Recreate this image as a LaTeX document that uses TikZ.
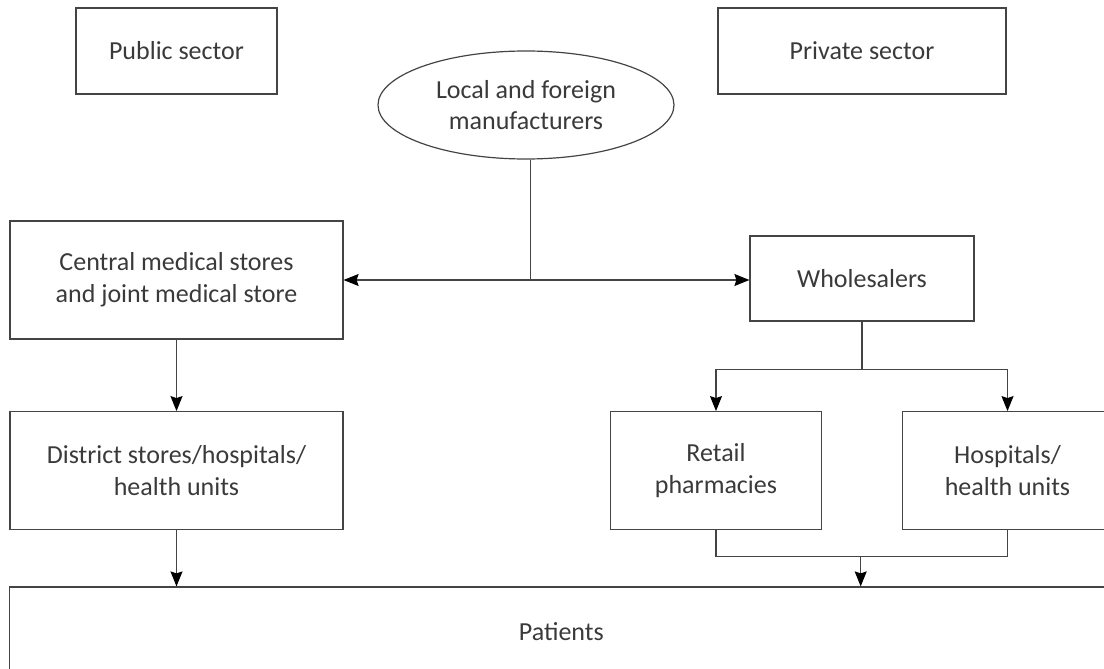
\documentclass[tikz,border=0pt]{standalone}
\usepackage{fontspec}
\setmainfont{Carlito}
\usetikzlibrary{arrows.meta,shapes.geometric}
\definecolor{linec}{HTML}{444444}
\definecolor{textc}{HTML}{3a3a3a}
\tikzset{
  box/.style={draw=linec, line width=1.2pt, rectangle, inner sep=0pt, align=center,
    text=textc, font=\fontsize{26}{31.7}\selectfont},
  oval/.style={draw=linec, line width=1.2pt, ellipse, inner sep=0pt, align=center,
    text=textc, font=\fontsize{26}{31.7}\selectfont},
  conn/.style={draw=linec, line width=1.2pt},
  arr/.style={conn, -{Stealth[length=15pt,width=12pt,inset=2pt,color=black]}}
}
\begin{document}
\begin{tikzpicture}[x=1pt,y=-1pt]
\useasboundingbox (0,0) rectangle (1104,669);
\begin{scope}
\clip (0,0) rectangle (1104,669);
\node[box, minimum width=201pt, minimum height=86pt] (pub) at (176.5,51) {Public sector};
\node[box, minimum width=288pt, minimum height=86pt] (priv) at (862,51) {Private sector};
\node[oval, minimum width=296pt, minimum height=108pt] (manu) at (526,105) {Local and foreign\\manufacturers};
\node[box, minimum width=333pt, minimum height=118pt] (central) at (176.5,280) {Central medical stores\\and joint medical store};
\node[box, minimum width=224pt, minimum height=85pt] (whole) at (862,278.5) {Wholesalers};
\node[box, minimum width=333pt, minimum height=118pt] (district) at (176.5,470.7) {District stores/hospitals/\\health units};
\node[box, minimum width=211pt, minimum height=118pt] (retail) at (716,470.7) {Retail\\pharmacies};
\node[box, minimum width=210pt, minimum height=118pt] (hosp) at (1007.5,470.7) {Hospitals/\\health units};
\node[box, minimum width=1103pt, minimum height=89pt] (patients) at (561.3,631.5) {Patients};

\coordinate (j) at (530.7,280);
\coordinate (s) at (862,369.3);
\coordinate (m) at (860.7,556.7);

\draw[conn] (manu.south -| j) -- (j);
\draw[arr] (j) -- (j -| central.east);
\draw[arr] (j) -- (j -| whole.west);
\draw[arr] (central.south) -- (district.north);
\draw[arr] (district.south) -- (district.south |- patients.north);
\draw[conn] (whole.south) -- (s);
\draw[arr] (s) -| (retail.north);
\draw[arr] (s) -| (hosp.north);
\draw[conn] (retail.south) |- (m) -| (hosp.south);
\draw[arr] (m) -- (m |- patients.north);
\end{scope}
\end{tikzpicture}
\end{document}
